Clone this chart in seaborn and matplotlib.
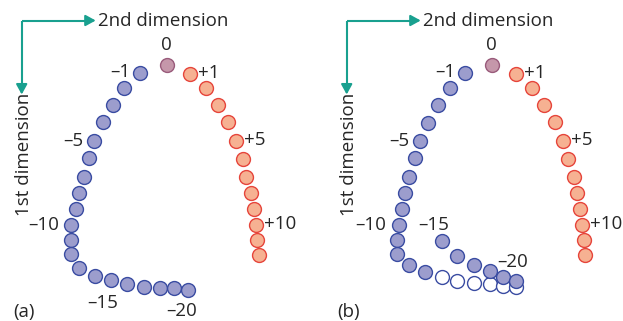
import matplotlib
matplotlib.use("Agg")
import matplotlib.pyplot as plt
import pandas as pd
import seaborn as sns

sns.set_style("white")
plt.rcParams["font.family"] = ["Open Sans", "DejaVu Sans"]

# ---- positions along the two dimensions (x = 2nd dimension, y = 1st dimension, downwards)
# panel (a)
a_neg_x = [-2.7, -4.3, -5.4, -6.4, -7.3, -7.8, -8.3, -8.8, -9.1, -9.6,
           -9.6, -9.6, -8.8, -7.2, -5.6, -4.0, -2.3, -0.7, 0.7, 2.1]
a_neg_y = [0.8, 2.3, 4.0, 5.7, 7.6, 9.3, 11.2, 12.8, 14.4, 16.0,
           17.5, 18.9, 20.3, 21.1, 21.5, 21.9, 22.2, 22.3, 22.3, 22.5]
a_pos_x = [2.3, 3.9, 5.1, 6.1, 6.9, 7.6, 7.9, 8.4, 8.7, 8.9, 9.0, 9.2]
a_pos_y = [0.9, 2.3, 4.0, 5.7, 7.6, 9.4, 11.2, 12.8, 14.4, 16.0, 17.5, 19.0]

# panel (b)
b_neg_x = [-2.7, -4.2, -5.4, -6.4, -7.2, -7.7, -8.3, -8.7, -9.0, -9.3,
           -9.5, -9.5, -8.3, -6.7, -5.0, -3.5, -1.8, -0.2, 1.1, 2.4]
b_neg_y = [0.8, 2.3, 4.0, 5.8, 7.6, 9.3, 11.2, 12.8, 14.4, 16.0,
           17.5, 18.9, 20.0, 20.7, 17.6, 19.1, 20.0, 20.6, 21.2, 21.6]
b_ghost_x = [-5.0, -3.5, -1.8, -0.2, 1.1, 2.4]
b_ghost_y = [21.2, 21.6, 21.8, 21.9, 22.1, 22.2]
b_pos_x = [2.4, 4.0, 5.2, 6.3, 7.1, 7.6, 8.2, 8.5, 8.8, 9.0, 9.2, 9.3]
b_pos_y = [0.9, 2.3, 4.0, 5.7, 7.6, 9.4, 11.2, 12.8, 14.4, 16.0, 17.5, 19.0]

origin = (0.0, 0.0)
labelled_neg = [1, 5, 10, 15, 20]
labelled_pos = [1, 5, 10]

BLUE_FILL, BLUE_EDGE = "#9c9dcd", "#3a4ca2"
RED_FILL, RED_EDGE = "#f6b192", "#e6453b"
MID_FILL, MID_EDGE = "#c597aa", "#995b7b"
TEAL = "#19a08f"
S = 100
LW = 1.0

fig = plt.figure(figsize=(6.23, 3.21), dpi=100)
ax_a = fig.add_axes([0.0, 0.0, 0.5, 1.0])
ax_b = fig.add_axes([0.5, 0.0, 0.5, 1.0])


def draw_panel(ax, neg_x, neg_y, pos_x, pos_y, x_left, tag, neg_offsets,
               ghost_x=None, ghost_y=None):
    ax.set_xlim(x_left, x_left + 31.15)
    ax.set_ylim(25.6, -6.5)
    ax.set_axis_off()

    if ghost_x is not None:
        ghost = pd.DataFrame({"d2": ghost_x, "d1": ghost_y})
        sns.scatterplot(data=ghost, x="d2", y="d1", ax=ax, s=S, color="white",
                        edgecolor=BLUE_EDGE, linewidth=LW, zorder=2)
    neg = pd.DataFrame({"d2": neg_x, "d1": neg_y})
    pos = pd.DataFrame({"d2": pos_x, "d1": pos_y})
    sns.scatterplot(data=neg, x="d2", y="d1", ax=ax, s=S, color=BLUE_FILL,
                    edgecolor=BLUE_EDGE, linewidth=LW, zorder=3)
    sns.scatterplot(data=pos, x="d2", y="d1", ax=ax, s=S, color=RED_FILL,
                    edgecolor=RED_EDGE, linewidth=LW, zorder=3)
    sns.scatterplot(x=[origin[0]], y=[origin[1]], ax=ax, s=S, color=MID_FILL,
                    edgecolor=MID_EDGE, linewidth=LW, zorder=3)
    ax.set_xlabel("")
    ax.set_ylabel("")

    fs = 13.5
    ax.annotate("0", (origin[0], origin[1]), xytext=(0, 20), textcoords="offset pixels",
                ha="center", va="center", fontsize=fs)
    for k in labelled_neg:
        dx, dy, ha = neg_offsets[k]
        ax.annotate(f"\u2013{k}", (neg_x[k - 1], neg_y[k - 1]), xytext=(dx, dy),
                    textcoords="offset pixels", ha=ha, va="center", fontsize=fs)
    for k in labelled_pos:
        ax.annotate(f"+{k}", (pos_x[k - 1], pos_y[k - 1]), xytext=(8, 1),
                    textcoords="offset pixels", ha="left", va="center", fontsize=fs)

    # orientation arrows for the two dimensions
    corner_x, corner_y = -14.5, -4.45
    ax.plot([corner_x, corner_x], [corner_y, 2.2], color=TEAL, lw=1.5,
            solid_capstyle="butt", zorder=1)
    ax.plot([corner_x, -7.9], [corner_y, corner_y], color=TEAL, lw=1.5,
            solid_capstyle="butt", zorder=1)
    ax.annotate("", xy=(corner_x, 2.95), xytext=(corner_x, 2.0),
                arrowprops=dict(arrowstyle="-|>,head_length=0.6,head_width=0.33",
                                color=TEAL, lw=1.5, shrinkA=0, shrinkB=0))
    ax.annotate("", xy=(-7.1, corner_y), xytext=(-8.1, corner_y),
                arrowprops=dict(arrowstyle="-|>,head_length=0.6,head_width=0.33",
                                color=TEAL, lw=1.5, shrinkA=0, shrinkB=0))
    ax.text(-6.85, corner_y, "2nd dimension", ha="left", va="center", fontsize=fs)
    ax.text(-14.25, 8.9, "1st dimension", ha="center", va="center",
            rotation=90, fontsize=fs)
    ax.text(-14.3, 24.7, tag, ha="center", va="center", fontsize=fs)


draw_panel(ax_a, a_neg_x, a_neg_y, a_pos_x, a_pos_y, -16.67, "(a)",
           {1: (-9, 1, "right"), 5: (-10, 0, "right"), 10: (-12, 0, "right"),
            15: (-8, -23, "center"), 20: (-6, -21, "center")})
draw_panel(ax_b, b_neg_x, b_neg_y, b_pos_x, b_pos_y, -18.02, "(b)",
           {1: (-9, 1, "right"), 5: (-10, 0, "right"), 10: (-13, 0, "right"),
            15: (-8, 16, "center"), 20: (-3, 19, "center")},
           ghost_x=b_ghost_x, ghost_y=b_ghost_y)

fig.savefig("out.png", dpi=100)
